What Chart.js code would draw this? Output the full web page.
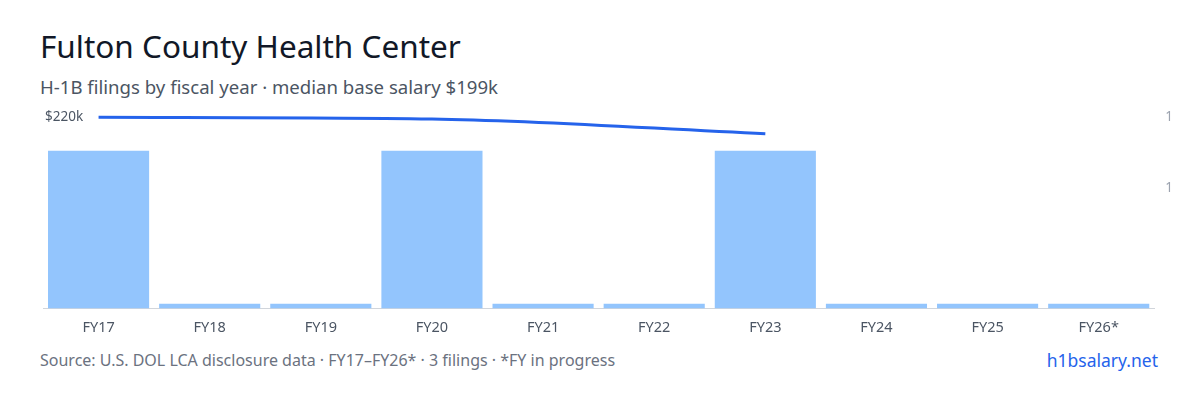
<!DOCTYPE html>
<html><head><meta charset="utf-8">
<script src="https://cdn.jsdelivr.net/npm/chart.js@4"></script>
<style>
body{margin:0;width:1200px;height:400px;background:#fff;font-family:"Noto Sans",sans-serif;position:relative;overflow:hidden}
#t{position:absolute;left:40px;top:24px;font-size:31.5px;color:#111827}
#s{position:absolute;left:40px;top:74px;font-size:18.6px;color:#4b5563}
#w{position:absolute;left:0;top:100px;width:1200px;height:240px}
#f{position:absolute;left:40px;top:349px;font-size:16px;color:#6b7280}
#b{position:absolute;right:42px;top:348px;font-size:17.5px;color:#2563eb}
</style></head><body>
<div id="t">Fulton County Health Center</div>
<div id="s">H-1B filings by fiscal year · median base salary $199k</div>
<div id="w"><canvas id="c"></canvas></div>
<div id="f">Source: U.S. DOL LCA disclosure data · FY17–FY26* · 3 filings · *FY in progress</div>
<div id="b">h1bsalary.net</div>
<script>
const categories=["FY17","FY18","FY19","FY20","FY21","FY22","FY23","FY24","FY25","FY26*"];
const filings=[1,0.03,0.03,1,0.03,0.03,1,0.03,0.03,0.03];
const salaryK=[220,null,null,218,null,null,201,null,null,null];
const rightTicks=[0.76,1.21];
new Chart(document.getElementById('c'),{
 data:{labels:categories,datasets:[
  {type:'line',data:salaryK,yAxisID:'yS',borderColor:'#2563eb',borderWidth:3,pointRadius:0,spanGaps:true,tension:0.3,cubicInterpolationMode:'monotone'},
  {type:'bar',data:filings,yAxisID:'yF',backgroundColor:'#93c5fd',barPercentage:0.91,categoryPercentage:1}
 ]},
 options:{responsive:true,maintainAspectRatio:false,animation:false,
  layout:{padding:{left:31,right:24,top:12}},
  plugins:{legend:{display:false},tooltip:{enabled:false}},
  scales:{
   x:{grid:{display:false},border:{color:'#d1d5db'},ticks:{color:'#4b5563',font:{size:14.5,family:'Noto Sans'}}},
   yS:{position:'left',min:0,max:226,grid:{display:false},border:{display:false},
     afterBuildTicks:a=>{a.ticks=[{value:220}]},
     ticks:{mirror:true,padding:2,color:'#4b5563',font:{size:13.5,family:'Noto Sans'},callback:v=>'$'+v+'k',z:1}},
   yF:{position:'right',min:0,max:1.245,grid:{display:false},border:{display:false},
     afterBuildTicks:a=>{a.ticks=rightTicks.map(v=>({value:v}))},
     ticks:{color:'#9ca3af',font:{size:13.5,family:'Noto Sans'},callback:()=>'1'}}
  }}
});
</script></body></html>
